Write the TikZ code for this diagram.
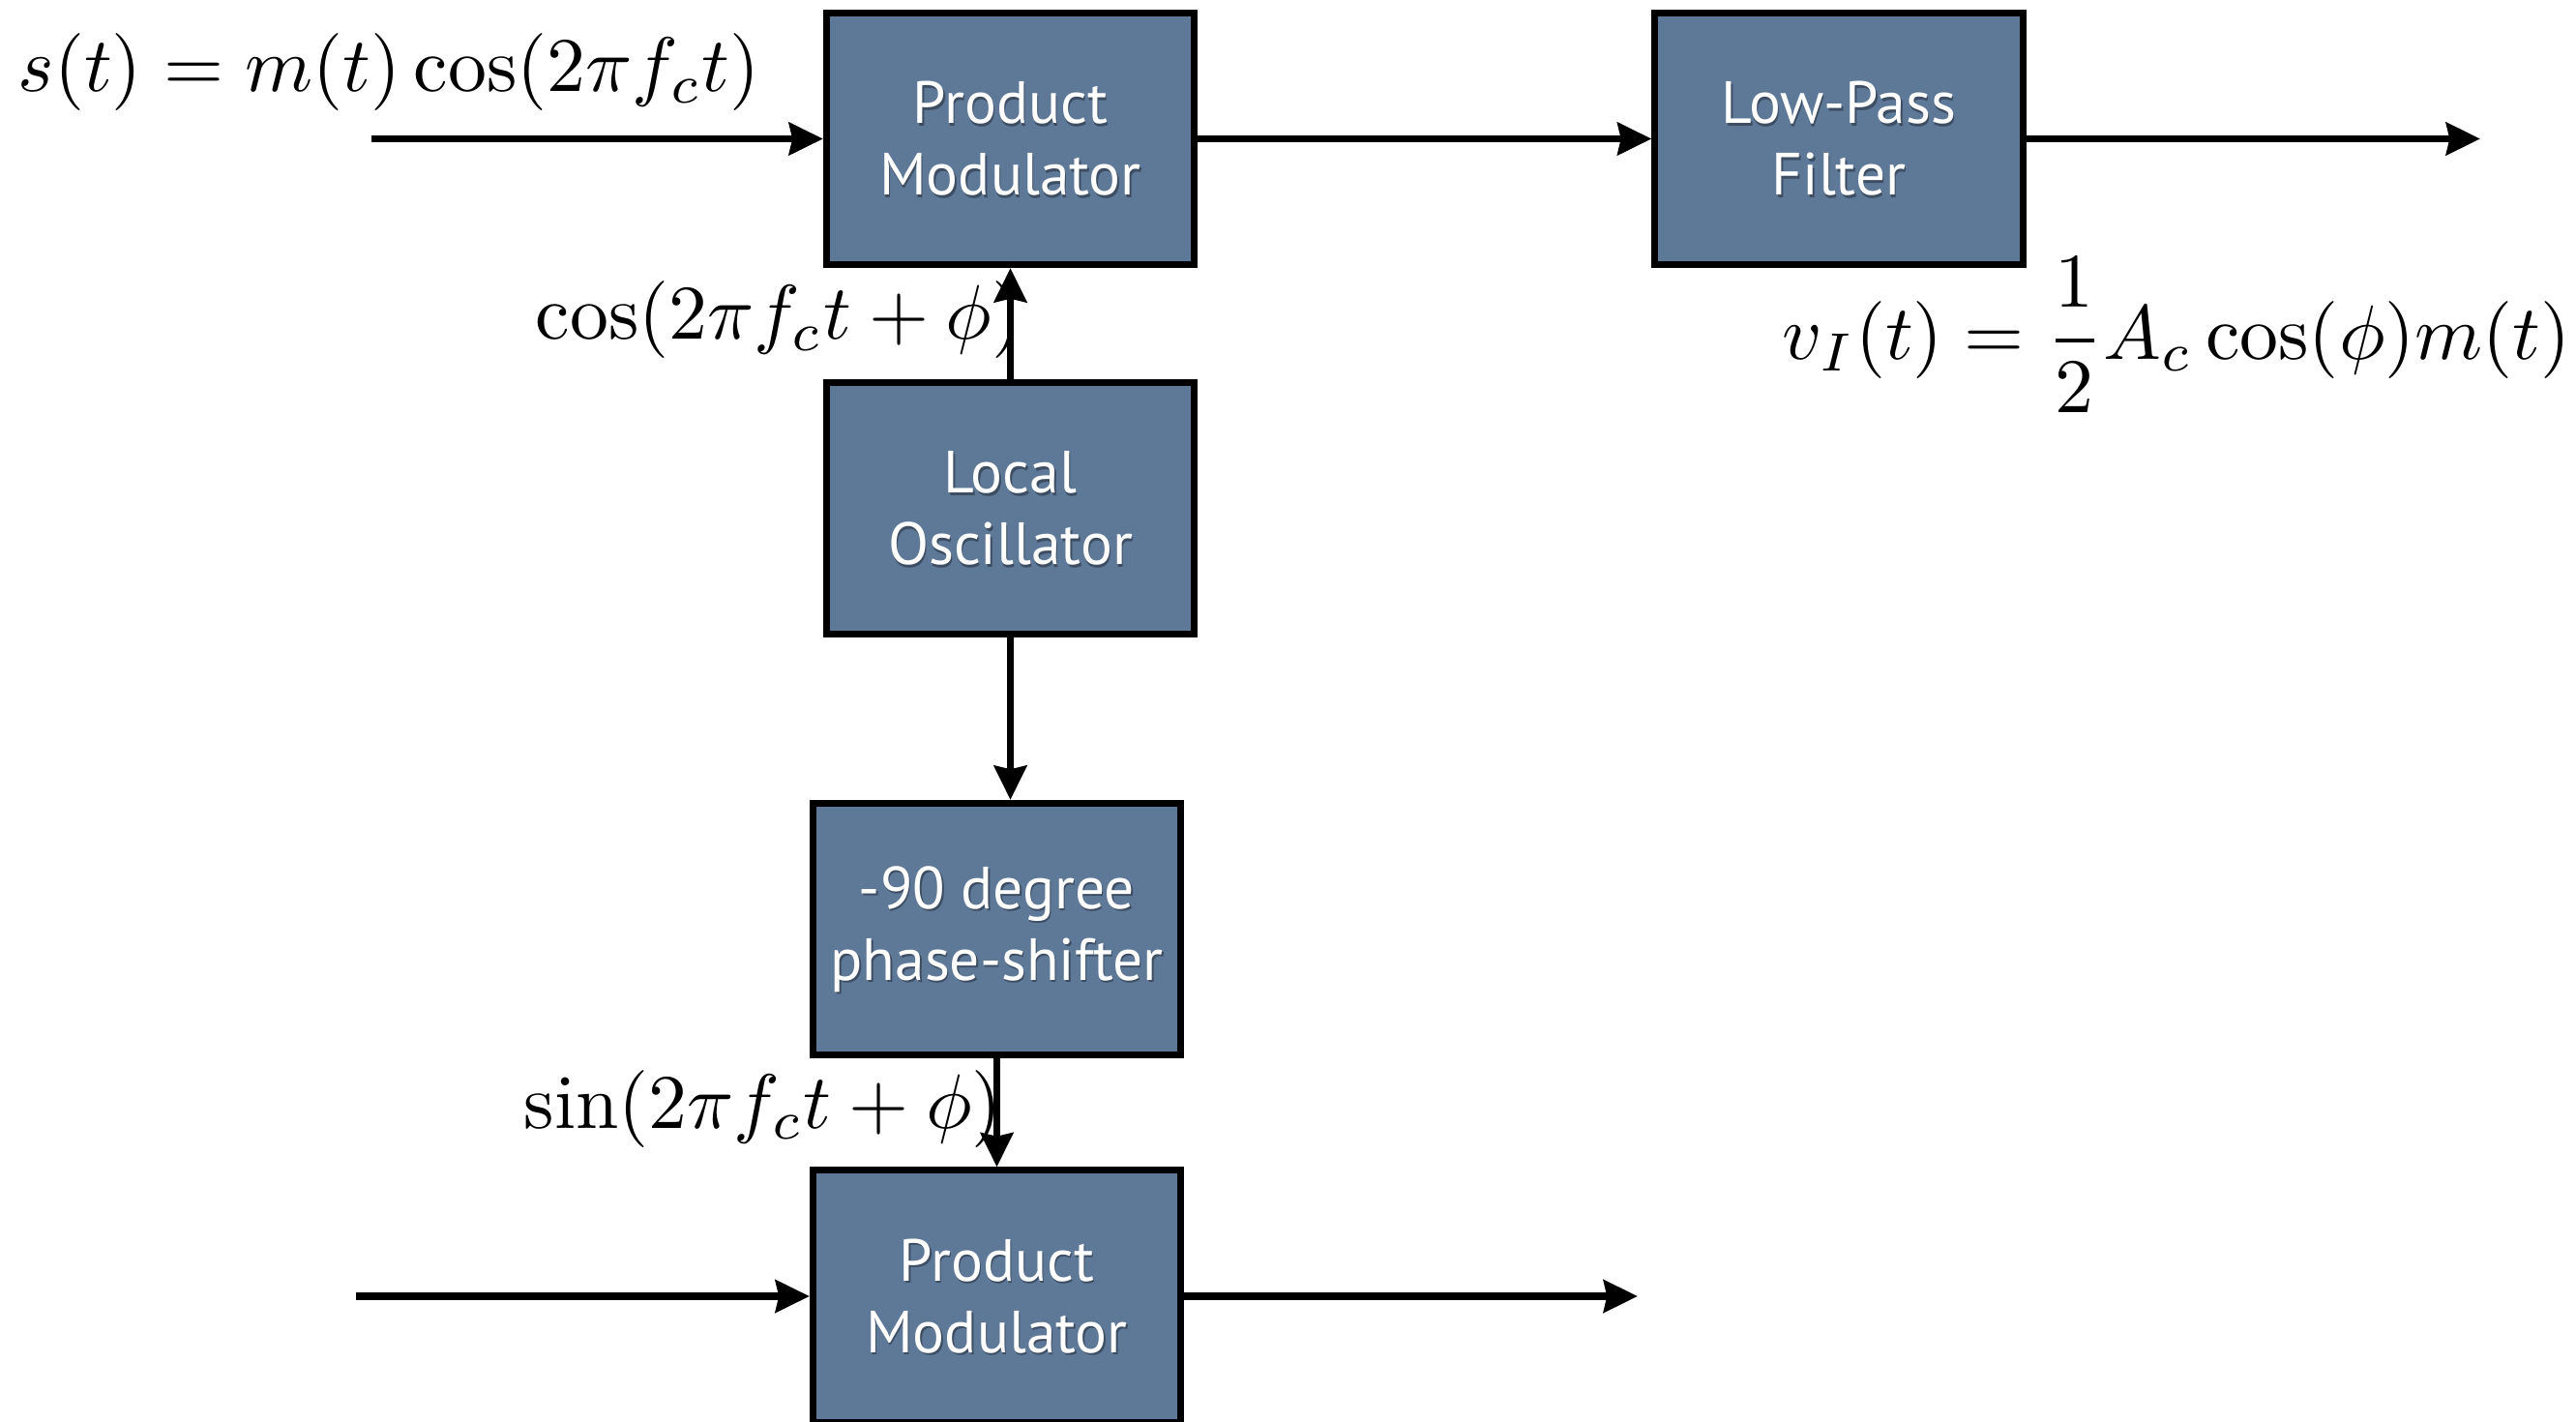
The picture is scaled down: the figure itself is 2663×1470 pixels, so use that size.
\documentclass[tikz,border=0pt]{standalone}
\usepackage{graphicx}
\usepackage{fontspec}
\setsansfont{PT Sans}
\usetikzlibrary{arrows.meta}
\definecolor{blockfill}{RGB}{94,120,152}
\tikzset{
  blockbox/.style={draw=black, line width=2pt, fill=blockfill,
    minimum width=3.80cm, minimum height=2.60cm, inner sep=0pt},
  blocktext/.style={text=white, font=\sffamily\fontsize{17.5}{21}\selectfont,
    align=center, inner sep=0pt},
  blockshadow/.style={blocktext, text=black, text opacity=0.35},
  signal/.style={line width=2.1pt, -{Stealth[length=10pt,width=9.5pt,inset=1pt]}},
  eqn/.style={inner sep=0pt, anchor=base west},
}
% formulas are set at 10pt and enlarged
\newcommand\bigmath[1]{\scalebox{2.27}{$#1$}}
% a block: framed box, soft shadow under its label, white label on top
\newcommand\blockat[3]{%
  \node[blockbox] (#1) at (#2) {};
  \node[blockshadow] (#1-shadow) at ([shift={(1.5,2.5)}]#1.center) {#3};
  \node[blocktext] (#1-text) at (#1.center) {#3};
}
\begin{document}
\begin{tikzpicture}[x=0.01cm, y=-0.01cm]
  \useasboundingbox (0,0) rectangle (2663,1470);

  % blocks
  \blockat{pm1}{1044.5,143.5}{Product\\Modulator}
  \blockat{lpf}{1901,143.5}{Low-Pass\\Filter}
  \blockat{lo}{1044.5,525.5}{Local\\Oscillator}
  \blockat{ps}{1030.5,960.5}{-90 degree\\phase-shifter}
  \blockat{pm2}{1030.5,1340}{Product\\Modulator}

  % signal labels
  \node[eqn] (st) at (18,95) {\bigmath{s(t) = m(t)\cos(2\pi f_c t)}};
  \node[eqn] (cosl) at (553,351) {\bigmath{\cos(2\pi f_c t + \phi)}};
  \node[eqn] (vi) at (1842,372) {\bigmath{v_I(t) = \displaystyle\frac{1}{2}A_c\cos(\phi)m(t)}};
  \node[eqn] (sinl) at (541,1166) {\bigmath{\sin(2\pi f_c t + \phi)}};

  % free ends of the input and output lines
  \coordinate (in1) at (384,143.5);
  \coordinate (out1) at (2564,143.5);
  \coordinate (in2) at (368,1340);
  \coordinate (out2) at (1693,1340);

  % connectors
  \draw[signal] (in1) -- (pm1.west);
  \draw[signal] (pm1.east) -- (lpf.west);
  \draw[signal] (lpf.east) -- (out1);
  \draw[signal] (lo.north) -- (pm1.south);
  \draw[signal] (lo.south) -- (lo.south |- ps.north);
  \draw[signal] (ps.south) -- (pm2.north);
  \draw[signal] (in2) -- (pm2.west);
  \draw[signal] (pm2.east) -- (out2);
\end{tikzpicture}
\end{document}
